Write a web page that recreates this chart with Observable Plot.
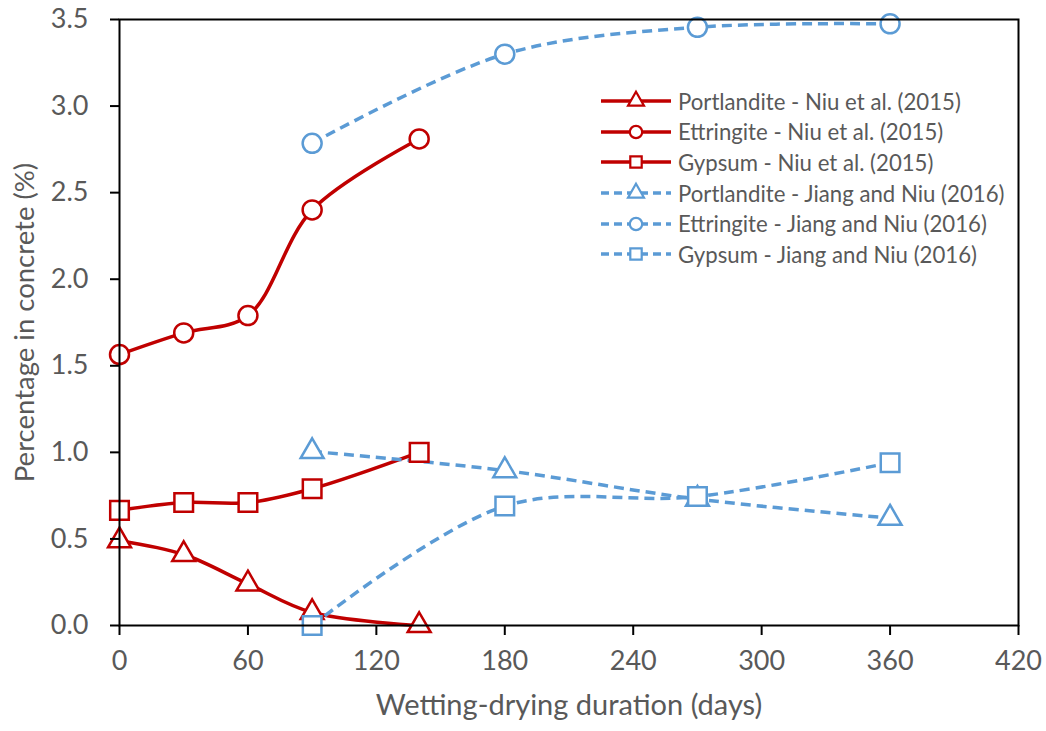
<!DOCTYPE html>
<html>
<head>
<meta charset="utf-8">
<script src="https://cdn.jsdelivr.net/npm/d3@7"></script>
<script src="https://cdn.jsdelivr.net/npm/@observablehq/plot@0.6"></script>
<style>
  body { margin: 0; background: #fff; }
  #wrap { position: relative; width: 1046px; height: 731px; font-family: Lato, "Open Sans", sans-serif; }
  #legend { position: absolute; left: 599px; top: 86px; }
  #legend .row { display: flex; align-items: center; height: 30.6px; font-size: 22.2px; color: #595959; white-space: nowrap; }
  #legend svg { margin-right: 5px; }
</style>
</head>
<body>
<div id="wrap"></div>
<script>
// ---- data ----
const niuDays = [0, 30, 60, 90, 140];
const niuPortlandite = [0.49, 0.41, 0.24, 0.075, 0.0];
const niuEttringite = [1.565, 1.69, 1.79, 2.40, 2.81];
const niuGypsum = [0.665, 0.71, 0.71, 0.79, 1.0];

const jiangDays = [90, 180, 270, 360];
const jiangPortlandite = [1.005, 0.895, 0.73, 0.62];
const jiangEttringite = [2.785, 3.30, 3.455, 3.475];
const jiangGypsum = [0.0, 0.69, 0.745, 0.94];

const xTicks = [0, 60, 120, 180, 240, 300, 360, 420];
const yTicks = [0, 0.5, 1.0, 1.5, 2.0, 2.5, 3.0, 3.5];

const seriesNames = [
  "Portlandite - Niu et al. (2015)",
  "Ettringite - Niu et al. (2015)",
  "Gypsum - Niu et al. (2015)",
  "Portlandite - Jiang and Niu (2016)",
  "Ettringite - Jiang and Niu (2016)",
  "Gypsum - Jiang and Niu (2016)"
];
const RED = "#C00000", BLUE = "#5B9BD5", GREY = "#595959";

const symbolOf = {Portlandite: "triangle", Ettringite: "circle", Gypsum: "square"};
const rOf = {Portlandite: 8.5, Ettringite: 9.5, Gypsum: 10.5};

function build(days, vals, name, study) {
  return days.map((d, i) => ({day: d, value: vals[i], name, study, mineral: name.split(" ")[0]}));
}
const series = [
  build(niuDays, niuPortlandite, seriesNames[0], "niu"),
  build(niuDays, niuEttringite, seriesNames[1], "niu"),
  build(niuDays, niuGypsum, seriesNames[2], "niu"),
  build(jiangDays, jiangPortlandite, seriesNames[3], "jiang"),
  build(jiangDays, jiangEttringite, seriesNames[4], "jiang"),
  build(jiangDays, jiangGypsum, seriesNames[5], "jiang")
];

const marks = [];
for (const s of series) {
  const isNiu = s[0].study === "niu";
  marks.push(Plot.line(s, {
    x: "day", y: "value", curve: "catmull-rom",
    stroke: isNiu ? RED : BLUE, strokeWidth: 3.5,
    strokeDasharray: isNiu ? null : "10,6", strokeLinecap: "butt"
  }));
}
for (const s of series) {
  const isNiu = s[0].study === "niu";
  const m = s[0].mineral;
  marks.push(Plot.dot(s, {
    x: "day", y: "value", symbol: () => symbolOf[m], r: rOf[m],
    fill: "white", stroke: isNiu ? RED : BLUE, strokeWidth: 2.5
  }));
}

const chart = Plot.plot({
  width: 1046, height: 731,
  marginLeft: 119, marginRight: 28, marginTop: 19, marginBottom: 106,
  style: {fontFamily: "Lato, 'Open Sans', sans-serif", background: "white", overflow: "visible"},
  x: {domain: [0, 420]},
  y: {domain: [0, 3.5]},
  symbol: {type: "identity"},
  marks: [
    ...marks,
    Plot.frame({stroke: "black", strokeWidth: 2}),
    Plot.axisX({ticks: xTicks, tickSize: 10, tickPadding: 15, fontSize: 27, label: null, stroke: "black", strokeWidth: 2, fill: GREY}),
    Plot.axisY({ticks: yTicks, tickSize: 9, tickPadding: 22, fontSize: 27, label: null, tickFormat: d3.format(".1f"), stroke: "black", strokeWidth: 2, fill: GREY}),
    Plot.text(["Wetting-drying duration (days)"], {frameAnchor: "bottom", dy: 89, fontSize: 29, fill: GREY}),
    Plot.text(["Percentage in concrete (%)"], {frameAnchor: "left", dx: -94, rotate: -90, textAnchor: "middle", fontSize: 27.5, fill: GREY})
  ]
});
document.getElementById("wrap").appendChild(chart);

// ---- legend ----
const legend = d3.select("#wrap").append("div").attr("id", "legend");
seriesNames.forEach((name, i) => {
  const isNiu = i < 3;
  const m = name.split(" ")[0];
  const color = isNiu ? RED : BLUE;
  const row = legend.append("div").attr("class", "row");
  const svg = row.append("svg").attr("width", 74).attr("height", 30);
  svg.append("line").attr("x1", 2).attr("x2", 72).attr("y1", 15).attr("y2", 15)
    .attr("stroke", color).attr("stroke-width", 3.5)
    .attr("stroke-dasharray", isNiu ? null : "8,5");
  const sym = {triangle: d3.symbolTriangle, circle: d3.symbolCircle, square: d3.symbolSquare}[symbolOf[m]];
  const sz = {Portlandite: 110, Ettringite: 120, Gypsum: 130}[m];
  svg.append("path").attr("d", d3.symbol(sym, sz)())
    .attr("transform", "translate(37,15)")
    .attr("fill", "white").attr("stroke", color).attr("stroke-width", 2.2);
  row.append("span").text(name);
});
</script>
</body>
</html>
